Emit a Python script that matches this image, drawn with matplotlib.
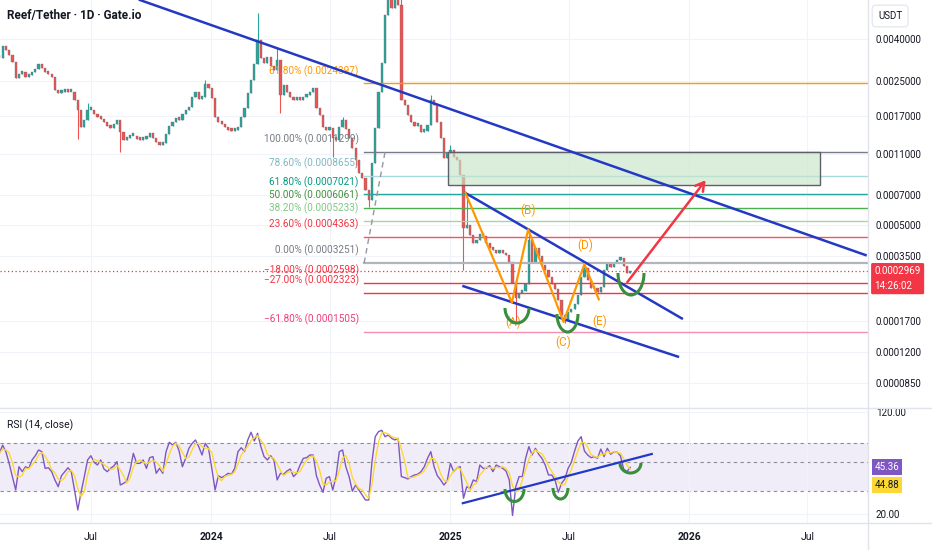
import numpy as np
import pandas as pd
import matplotlib
matplotlib.use("Agg")
import matplotlib.pyplot as plt
import matplotlib.dates as mdates
import matplotlib.ticker as mticker
from matplotlib.patches import Arc, Rectangle
from matplotlib.lines import Line2D

plt.rcParams['font.family'] = ['Roboto', 'DejaVu Sans']

W, H = 932, 550

# ---- price data: one candle per 5 days, closes in units of 1e-4 USDT ----
start_date = '2023-02-11'
close_e4 = [
    32.44, 37.12, 35.49, 33.55, 31.02, 25.92, 27.11, 27.72, 26.21, 26.80,
    27.72, 28.67, 30.33, 29.00, 27.72, 27.11, 26.21, 22.65, 21.90, 22.15,
    22.40, 22.15, 22.15, 20.25, 18.10, 14.95, 16.17, 18.10, 18.10, 17.31,
    16.73, 16.36, 15.81, 15.12, 14.78, 15.46, 16.17, 14.14, 12.92, 13.22,
    13.52, 13.52, 13.07, 12.92, 13.07, 13.37, 13.98, 13.22, 12.63, 12.21,
    12.49, 13.83, 15.12, 15.81, 16.55, 16.17, 17.31, 18.10, 18.72, 20.94,
    22.15, 20.47, 20.94, 24.23, 23.16, 20.70, 16.73, 15.81, 15.46, 14.95,
    14.46, 14.30, 14.46, 14.95, 16.73, 18.51, 21.90, 25.34, 30.33, 39.71,
    32.44, 30.67, 32.81, 29.66, 28.35, 31.72, 21.41, 23.96, 22.15, 20.94,
    20.25, 20.94, 20.25, 20.94, 21.41, 22.15, 23.16, 18.51, 17.11, 14.95,
    14.46, 14.78, 13.22, 12.92, 14.95, 16.17, 14.62, 13.22, 11.81, 10.32,
    8.92, 8.44, 7.37, 6.59, 9.98, 14.78, 22.15, 30.67, 52.57, 69.61,
    56.88, 65.81, 58.82, 20.25, 19.14, 17.11, 15.81, 15.12, 15.29, 14.14,
    14.30, 15.29, 20.25, 19.14, 15.81, 13.22, 10.56, 11.17, 11.55, 10.68,
    10.32, 8.73, 4.81, 4.97, 4.45, 4.07, 4.21, 4.50, 4.40, 4.07,
    3.85, 3.76, 3.64, 3.68, 3.64, 3.55, 3.29, 2.59, 2.19, 2.32,
    2.37, 2.56, 4.21, 3.29, 3.85, 3.52, 3.18, 3.00, 2.77, 2.56,
    2.42, 2.14, 1.81, 1.71, 1.87, 1.93, 2.05, 2.27, 2.77, 3.07,
    2.68, 2.45, 2.45, 2.35, 2.48, 3.00, 3.21, 3.11, 3.25, 3.36,
    3.44, 3.14, 2.90, 2.969,
]
# notable wicks (candle index -> price, 1e-4)
wick_hi_e4 = {27: 19.58, 63: 25.34, 79: 53.77, 85: 36.30, 105: 16.73, 123: 64.0,
              132: 21.41, 138: 12.21, 143: 7.13, 162: 4.81, 179: 3.18}
wick_lo_e4 = {24: 13.07, 37: 11.29, 86: 17.50, 102: 10.68, 109: 9.54, 113: 6.09,
              142: 3.00, 158: 1.65, 173: 1.65}

rsi = [
    58.1, 67.0, 59.8, 48.7, 38.6, 30.5, 45.9, 42.1, 45.9, 44.6,
    51.7, 55.7, 61.6, 59.8, 44.6, 45.1, 42.1, 36.4, 32.3, 39.2,
    42.1, 45.1, 42.1, 30.5, 21.5, 29.3, 38.6, 51.7, 55.7, 49.6,
    47.3, 51.7, 44.1, 42.1, 44.6, 46.5, 50.2, 33.3, 34.3, 35.7,
    43.4, 58.1, 48.7, 48.7, 51.7, 44.6, 53.8, 54.8, 40.9, 44.6,
    40.9, 59.8, 70.5, 67.2, 70.5, 60.5, 45.9, 53.2, 63.4, 69.2,
    73.4, 65.3, 56.4, 69.2, 63.4, 44.6, 30.5, 39.2, 37.9, 39.2,
    40.9, 40.2, 44.6, 59.8, 64.1, 59.8, 73.4, 84.1, 72.1, 82.5,
    65.3, 54.8, 51.7, 55.7, 51.7, 36.4, 40.9, 40.2, 42.6, 44.1,
    38.6, 40.9, 47.3, 53.2, 53.8, 56.4, 56.4, 39.2, 33.3, 29.3,
    37.5, 38.6, 30.5, 38.6, 59.8, 61.6, 45.9, 38.6, 29.9, 33.3,
    30.5, 28.0, 25.6, 25.6, 50.2, 77.8, 85.0, 87.0, 77.8, 80.1,
    75.6, 73.4, 75.6, 38.6, 37.9, 37.0, 38.6, 39.7, 40.2, 42.1,
    45.9, 53.2, 59.8, 45.9, 39.2, 36.4, 33.3, 35.7, 48.7, 42.1,
    45.1, 45.9, 26.4, 32.3, 31.4, 36.4, 35.3, 47.3, 44.6, 44.6,
    46.8, 42.1, 47.3, 45.9, 44.6, 42.6, 36.4, 19.5, 32.3, 38.6,
    38.6, 53.2, 65.3, 56.4, 63.4, 57.1, 53.2, 47.3, 39.7, 39.7,
    36.4, 29.3, 34.3, 37.0, 44.6, 49.6, 60.5, 72.1, 77.8, 60.5,
    56.4, 53.8, 54.8, 53.2, 62.6, 54.8, 63.4, 57.1, 59.8, 59.2,
    55.7, 44.1, 42.1, 45.36,
]
last_price = 0.0002969
countdown = '14:26:02'
rsi_ma_last = 44.88

price_ticks = [0.004, 0.0025, 0.0017, 0.0011, 0.0007, 0.0005, 0.00035, 0.00017, 0.00012, 0.000085]
rsi_ticks = [120, 20]
xtick_dates = ['2023-07-01', '2024-01-01', '2024-07-01', '2025-01-01', '2025-07-01', '2026-01-01', '2026-07-01']
xtick_labels = ['Jul', '2024', 'Jul', '2025', 'Jul', '2026', 'Jul']

# fib retracement (log)
fib_start = '2024-08-22'
fib_anchor_dates = ['2024-08-22', '2024-09-23']
fib_pcts = ['100.00%', '78.60%', '61.80%', '50.00%', '38.20%', '23.60%', '0.00%',
            '\u221218.00%', '\u221227.00%', '\u221261.80%']
fib_prices = [0.0011299, 0.0008655, 0.0007021, 0.0006061, 0.0005233, 0.0004363,
              0.0003251, 0.0002598, 0.0002323, 0.0001505]
fib_text_col = ['#787b86', '#7fb8c2', '#089981', '#43903f', '#81c784', '#f23645',
                '#787b86', '#f23645', '#f23645', '#ec407a']
fib_line_col = ['#787b86', '#a8dadc', '#26a69a', '#4caf50', '#a5d6a7', '#f7525f',
                '#b2b5be', '#f23645', '#f23645', '#f48fb1']
fib2_pct, fib2_price = '61.80%', 0.0024397

# drawings
trend_dates = ['2023-09-14', '2026-09-28']
trend_prices = [0.006222, 0.0003555]
chan_up_dates = ['2025-01-24', '2025-12-21']
chan_up_prices = [0.000713, 0.0001746]
chan_lo_dates = ['2025-01-21', '2025-12-15']
chan_lo_prices = [0.0002506, 0.0001137]
wave_dates = ['2025-01-24', '2025-04-05', '2025-04-30', '2025-06-23', '2025-07-25', '2025-08-16']
wave_prices = [0.000713, 0.0002085, 0.000474, 0.0001678, 0.000321, 0.0002162]
wave_names = ['(A)', '(B)', '(C)', '(D)', '(E)']
wave_lab_dates = ['2025-04-07', '2025-04-30', '2025-06-23', '2025-07-26', '2025-08-18']
wave_lab_prices = [0.0001672, 0.0005844, 0.0001342, 0.000398, 0.000170]
arrow_dates = ['2025-09-26', '2026-01-29']
arrow_prices = [0.000256, 0.000844]
box_dates = ['2024-12-28', '2026-07-20']
box_prices = [0.00078, 0.0011299]
rsi_trend_dates = ['2025-01-20', '2025-11-05']
rsi_trend_vals = [24.2, 57.4]

d = mdates.date2num


def dn(lst):
    return d(pd.to_datetime(lst))


fig = plt.figure(figsize=(W / 100, H / 100), dpi=100, facecolor='white')
AX_R = 867.5 / W
ax = fig.add_axes([0, 1 - 408 / H, AX_R, 408 / H])
axr = fig.add_axes([0, 1 - 523.3 / H, AX_R, (523.3 - 408) / H], sharex=ax)

# ---- candles ----
dates = pd.date_range(start_date, periods=len(close_e4), freq='5D')
x = d(dates)
c = np.array(close_e4) * 1e-4
o = np.r_[c[0], c[:-1]]
hi = np.maximum(o, c)
lo = np.minimum(o, c)
for i, v in wick_hi_e4.items():
    hi[i] = max(hi[i], v * 1e-4)
for i, v in wick_lo_e4.items():
    lo[i] = min(lo[i], v * 1e-4)
up = c >= o
cols = np.where(up, '#26a69a', '#ef5350')
ax.vlines(x, lo, hi, colors=cols, lw=0.8, zorder=2)
body_lo = np.minimum(o, c)
body_hi = np.maximum(np.maximum(o, c), body_lo * 1.03)
ax.bar(x, body_hi - body_lo, bottom=body_lo, width=3.4, color=cols, edgecolor='#6b6e78',
       lw=0.25, zorder=2)

ax.set_yscale('log')
ax.set_ylim(6.39e-5, 6.222e-3)
ax.set_xlim(d(pd.Timestamp('2023-02-12')), d(pd.Timestamp('2026-10-01')))

# ---- fib levels ----
fx0 = dn([fib_start])[0]
xmax = ax.get_xlim()[1]
for pct, p, tc, lc in zip(fib_pcts, fib_prices, fib_text_col, fib_line_col):
    lw = 1.6 if pct == '0.00%' else 1.0
    ax.plot([fx0, xmax], [p, p], color=lc, lw=lw, zorder=3)
    ax.annotate(f'{pct} ({p:.7f})', xy=(fx0, p), xytext=(-5.5, 12.5), textcoords='offset pixels',
                ha='right', va='center', fontsize=7.2, color=tc, zorder=5)
ax.plot([fx0, xmax], [fib2_price, fib2_price], color='#ff9800', lw=1.0, zorder=3)
ax.annotate(f'{fib2_pct} ({fib2_price:.7f})', xy=(fx0, fib2_price), xytext=(-5.5, 12.5),
            textcoords='offset pixels', ha='right', va='center', fontsize=7.2, color='#ff9800')
ax.plot(dn(fib_anchor_dates), [fib_prices[6], fib_prices[0]], color='#9598a1', lw=1.0,
        ls=(0, (4, 3)), zorder=3)

# current price line
ax.axhline(last_price, color='#f23645', lw=0.9, ls=(0, (1, 2)), zorder=3)

# target box
bx = dn(box_dates)
ax.add_patch(Rectangle((bx[0], box_prices[0]), bx[1] - bx[0], box_prices[1] - box_prices[0],
                       facecolor='#c8e6c9', alpha=0.65, edgecolor='none', zorder=3))
ax.add_patch(Rectangle((bx[0], box_prices[0]), bx[1] - bx[0], box_prices[1] - box_prices[0],
                       facecolor='none', edgecolor='#5d606b', lw=1.0, zorder=4))

# trend lines and channel
blue = '#2339c4'
ax.plot(dn(trend_dates), trend_prices, color=blue, lw=1.8, zorder=4)
ax.plot(dn(chan_up_dates), chan_up_prices, color=blue, lw=1.8, zorder=4)
ax.plot(dn(chan_lo_dates), chan_lo_prices, color=blue, lw=1.8, zorder=4)

# wave count
ax.plot(dn(wave_dates), wave_prices, color='#ff9800', lw=1.6, zorder=4)
for name, wd, wp in zip(wave_names, dn(wave_lab_dates), wave_lab_prices):
    ax.text(wd, wp, name, color='#ff9800', fontsize=8.5, ha='center', va='center', zorder=5)

# projection arrow
ad = dn(arrow_dates)
ax.annotate('', xy=(ad[1], arrow_prices[1]), xytext=(ad[0], arrow_prices[0]),
            arrowprops=dict(arrowstyle='->,head_length=0.6,head_width=0.35', color='#f23645', lw=1.8),
            zorder=5)

# ---- price axis styling ----
ax.yaxis.tick_right()
ax.yaxis.set_major_locator(mticker.FixedLocator(price_ticks))
ax.yaxis.set_minor_locator(mticker.NullLocator())
ax.yaxis.set_major_formatter(mticker.FuncFormatter(lambda v, _: f'{v:.7f}'))
ax.tick_params(axis='y', length=0, pad=6, labelsize=7, labelcolor='#131722')
ax.tick_params(axis='x', length=0, labelbottom=False)
ax.grid(True, color='#f0f3fa', lw=0.8, zorder=0)
for s in ax.spines.values():
    s.set_visible(False)

# price label
ax.annotate(f'{last_price:.7f}\n{countdown}', xy=(1, last_price), xycoords=('axes fraction', 'data'),
            xytext=(7, -7.5), textcoords='offset pixels', ha='left', va='center', fontsize=7,
            color='white', linespacing=1.55, annotation_clip=False,
            bbox=dict(boxstyle='round,pad=0.35,rounding_size=0.15', fc='#f23645', ec='none'))

# ---- RSI pane ----
r = np.array(rsi)
r_ma = pd.Series(r).rolling(3, min_periods=1).mean().to_numpy()
axr.set_yscale('log')
axr.set_ylim(17.0, 128.7)
axr.axhspan(30, 70, color='#7e57c2', alpha=0.1, lw=0, zorder=1)
for lvl in (70, 50, 30):
    axr.axhline(lvl, color='#787b86', lw=0.8, ls=(0, (3, 3)), alpha=0.85, zorder=1)
axr.plot(x, r, color='#7e57c2', lw=1.0, zorder=3)
axr.plot(x, r_ma, color='#fdd835', lw=1.0, zorder=3)
axr.plot(dn(rsi_trend_dates), rsi_trend_vals, color=blue, lw=1.6, zorder=4)

axr.yaxis.tick_right()
axr.yaxis.set_major_locator(mticker.FixedLocator(rsi_ticks))
axr.yaxis.set_minor_locator(mticker.NullLocator())
axr.yaxis.set_major_formatter(mticker.FuncFormatter(lambda v, _: f'{v:.2f}'))
axr.tick_params(axis='y', length=0, pad=6, labelsize=7, labelcolor='#131722')
axr.xaxis.set_major_locator(mticker.FixedLocator(dn(xtick_dates)))
axr.xaxis.set_minor_locator(mticker.NullLocator())
axr.set_xticklabels(xtick_labels)
axr.tick_params(axis='x', length=0, pad=6, labelsize=7.5, labelcolor='#131722')
for lab in axr.get_xticklabels():
    if lab.get_text().isdigit():
        lab.set_fontweight('bold')
axr.grid(True, color='#f0f3fa', lw=0.8, zorder=0)
for s in axr.spines.values():
    s.set_visible(False)

axr.annotate(f'{r[-1]:.2f}', xy=(1, r[-1]), xycoords=('axes fraction', 'data'), xytext=(7, 0),
             textcoords='offset pixels', ha='left', va='center', fontsize=7, color='white',
             annotation_clip=False,
             bbox=dict(boxstyle='square,pad=0.3', fc='#7e57c2', ec='none'))
axr.annotate(f'{rsi_ma_last:.2f}', xy=(1, rsi_ma_last), xycoords=('axes fraction', 'data'),
             xytext=(7, -17), textcoords='offset pixels', ha='left', va='center', fontsize=7,
             color='#131722', annotation_clip=False,
             bbox=dict(boxstyle='square,pad=0.3', fc='#fdd835', ec='none'))

# ---- smiles (hand-drawn arcs) in canvas pixels ----
def smile(x0, x1, top, bottom, lw=2.2):
    a = Arc(((x0 + x1) / 2 / W, 1 - top / H), (x1 - x0) / W, 2 * (bottom - top) / H,
            theta1=180, theta2=360, transform=fig.transFigure, color='#388e3c', lw=lw, zorder=10)
    fig.add_artist(a)


smile(505, 529, 308, 323)
smile(557, 578, 314, 332)
smile(618, 644, 273, 295)
smile(505, 524, 489, 501.5)
smile(553, 568, 488, 499)
smile(620, 641, 463, 473)

# ---- frame lines & headers ----
fig.add_artist(Line2D([AX_R, AX_R], [0, 1], transform=fig.transFigure, color='#e0e3eb', lw=1))
for yy in (408, 523.3):
    fig.add_artist(Line2D([0, 1], [1 - yy / H] * 2, transform=fig.transFigure, color='#e0e3eb', lw=1))

fig.text(7 / W, 1 - 16 / H, 'Reef/Tether \u00b7 1D \u00b7 Gate.io', fontsize=8.5, fontweight='semibold',
         color='#131722', ha='left', va='center')
fig.text(7 / W, 1 - 425.5 / H, 'RSI (14, close)', fontsize=7.5, color='#131722', ha='left', va='center')
fig.text(878 / W, 1 - 16 / H, 'USDT', fontsize=7, color='#131722', ha='left', va='center',
         bbox=dict(boxstyle='round,pad=0.6,rounding_size=0.4', fc='white', ec='#e0e3eb', lw=0.8))

fig.savefig('out.png', dpi=100, facecolor='white')
